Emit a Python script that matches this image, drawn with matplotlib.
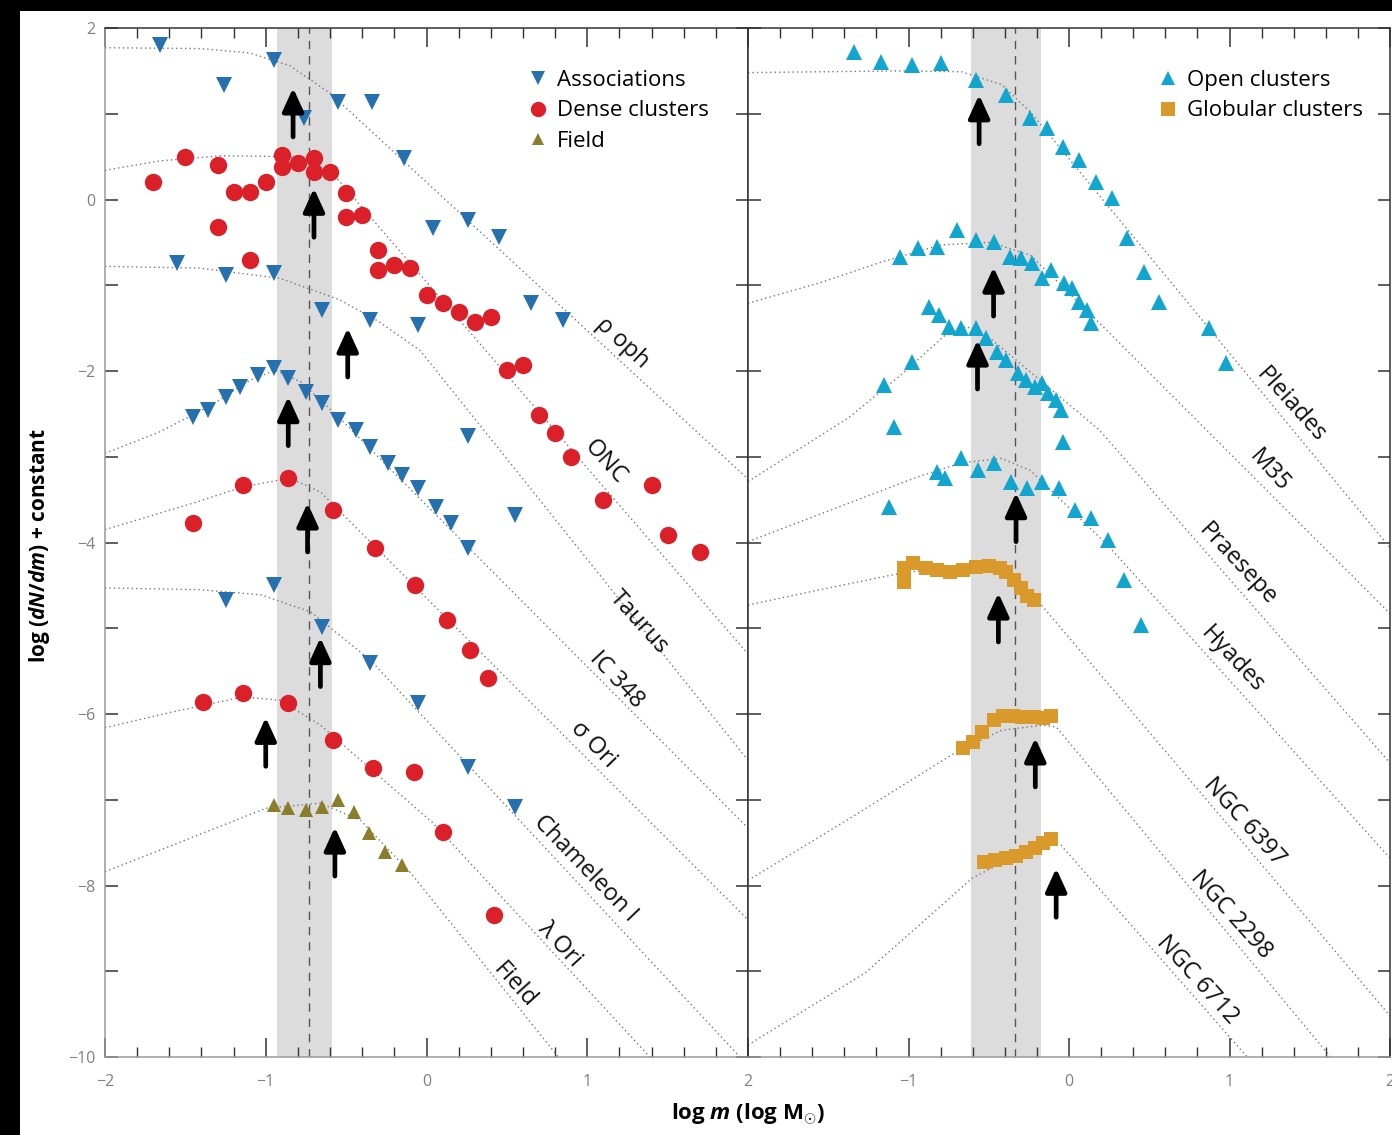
"""Stellar IMFs of young clusters, associations, open and globular clusters."""

import matplotlib

matplotlib.use("Agg")
import matplotlib.pyplot as plt
from matplotlib.lines import Line2D
from matplotlib.patches import Rectangle
from matplotlib.ticker import FuncFormatter, MultipleLocator

plt.rcParams["font.family"] = ["Open Sans", "DejaVu Sans"]
plt.rcParams["mathtext.fontset"] = "custom"
plt.rcParams["mathtext.rm"] = "Open Sans:bold"
plt.rcParams["mathtext.it"] = "Open Sans:italic:bold"
plt.rcParams["mathtext.bf"] = "Open Sans:bold"

BLUE = "#2570ad"
RED = "#dc2029"
OLIVE = "#8a7d2c"
CYAN = "#12a6cf"
ORANGE = "#d99a2b"
FIT_COLOR = "#777777"

# ---------------------------------------------------------------- left panel
# associations (blue down triangles)
RHO_OPH_X = [-1.66, -1.26, -0.95, -0.76, -0.55, -0.34, -0.14, 0.04, 0.26, 0.45, 0.65, 0.85]
RHO_OPH_Y = [1.80, 1.34, 1.63, 0.95, 1.14, 1.14, 0.48, -0.33, -0.24, -0.44, -1.21, -1.41]
TAURUS_X = [-1.55, -1.25, -0.95, -0.65, -0.35, -0.05, 0.26, 0.55]
TAURUS_Y = [-0.74, -0.88, -0.86, -1.29, -1.41, -1.46, -2.76, -3.68]
IC348_X = [-1.45, -1.36, -1.25, -1.16, -1.05, -0.95, -0.86, -0.75, -0.65, -0.55,
           -0.44, -0.35, -0.24, -0.15, -0.05, 0.06, 0.15, 0.26]
IC348_Y = [-2.54, -2.46, -2.30, -2.19, -2.05, -1.97, -2.08, -2.25, -2.37, -2.57,
           -2.69, -2.89, -3.07, -3.21, -3.36, -3.59, -3.77, -4.06]
CHAM_X = [-1.25, -0.95, -0.65, -0.35, -0.05, 0.26, 0.55]
CHAM_Y = [-4.67, -4.50, -4.99, -5.41, -5.87, -6.62, -7.09]

# dense clusters (red circles)
ONC_X = [-1.7, -1.5, -1.3, -1.2, -1.1, -1.0, -0.9, -0.9, -0.8, -0.7, -0.7, -0.6,
         -0.5, -0.5, -0.4, -0.3, -0.3, -0.2, -0.1, 0.0, 0.1, 0.2, 0.3, 0.4, 0.5,
         0.6, 0.7, 0.8, 0.9, 1.1, 1.4, 1.5, 1.7, -1.3, -1.1]
ONC_Y = [0.20, 0.50, 0.40, 0.09, 0.09, 0.20, 0.52, 0.38, 0.43, 0.48, 0.32, 0.32,
         0.08, -0.20, -0.18, -0.59, -0.82, -0.76, -0.80, -1.11, -1.21, -1.31,
         -1.43, -1.37, -1.99, -1.93, -2.51, -2.72, -3.00, -3.50, -3.33, -3.91,
         -4.11, -0.32, -0.71]
SIG_ORI_X = [-1.45, -1.14, -0.86, -0.58, -0.32, -0.07, 0.13, 0.27, 0.38]
SIG_ORI_Y = [-3.77, -3.33, -3.25, -3.62, -4.06, -4.50, -4.90, -5.25, -5.58]
LAM_ORI_X = [-1.39, -1.14, -0.86, -0.58, -0.33, -0.08, 0.10, 0.42]
LAM_ORI_Y = [-5.86, -5.76, -5.87, -6.30, -6.63, -6.68, -7.38, -8.34]

# field (olive triangles)
FIELD_X = [-0.95, -0.86, -0.75, -0.65, -0.55, -0.45, -0.36, -0.26, -0.15]
FIELD_Y = [-7.06, -7.10, -7.12, -7.09, -7.00, -7.14, -7.39, -7.61, -7.76]

RHO_OPH_FIT_X = [-2.0, -1.41, -1.10, -0.85, -0.60, 2.0]
RHO_OPH_FIT_Y = [1.77, 1.76, 1.71, 1.56, 1.24, -3.26]
ONC_FIT_X = [-2.0, -1.66, -1.28, -0.85, -0.60, 2.0]
ONC_FIT_Y = [0.34, 0.45, 0.51, 0.50, 0.34, -5.30]
TAURUS_FIT_X = [-2.0, -1.41, -0.91, -0.54, -0.30, -0.04, 2.0]
TAURUS_FIT_Y = [-0.78, -0.80, -0.92, -1.17, -1.42, -1.76, -6.54]
IC348_FIT_X = [-2.0, -1.66, -1.34, -1.10, -0.94, -0.78, -0.54, 2.0]
IC348_FIT_Y = [-2.96, -2.71, -2.40, -2.11, -1.99, -2.13, -2.55, -7.33]
SIG_ORI_FIT_X = [-2.0, -1.45, -1.14, -0.85, -0.66, 2.0]
SIG_ORI_FIT_Y = [-3.85, -3.54, -3.35, -3.25, -3.41, -8.40]
CHAM_FIT_X = [-2.0, -1.41, -1.03, -0.72, -0.35, 1.95]
CHAM_FIT_Y = [-4.53, -4.55, -4.61, -4.81, -5.37, -10.0]
LAM_ORI_FIT_X = [-2.0, -1.59, -1.14, -0.91, -0.66, 0.04, 1.39]
LAM_ORI_FIT_Y = [-6.16, -5.98, -5.80, -5.84, -6.13, -7.27, -10.0]
FIELD_FIT_X = [-2.0, -1.50, -1.00, -0.66, -0.41, -0.10, 0.82]
FIELD_FIT_Y = [-7.84, -7.47, -7.10, -7.04, -7.24, -7.85, -10.0]

LEFT_LABELS = ["\u03c1 oph", "ONC", "Taurus", "IC 348", "\u03c3 Ori", "Chameleon I", "\u03bb Ori", "Field"]
LEFT_LABEL_X = [1.22, 1.11, 1.32, 1.18, 1.04, 0.99, 0.83, 0.55]
LEFT_LABEL_Y = [-1.67, -3.06, -4.93, -5.60, -6.36, -7.80, -8.69, -9.16]
LEFT_LABEL_ROT = [-43, -48, -48, -47, -46, -46, -47, -48]

LEFT_ARROW_X = [-0.83, -0.70, -0.49, -0.86, -0.74, -0.66, -1.00, -0.57]
LEFT_ARROW_Y = [1.30, 0.13, -1.50, -2.30, -3.54, -5.11, -6.04, -7.32]
LEFT_BAND = (-0.93, -0.585)
LEFT_MEAN = -0.73

# --------------------------------------------------------------- right panel
PLEIADES_X = [-1.34, -1.17, -0.98, -0.80, -0.58, -0.39, -0.24, -0.14, -0.04, 0.06,
              0.17, 0.27, 0.36, 0.47, 0.56, 0.87, 0.98]
PLEIADES_Y = [1.72, 1.60, 1.57, 1.59, 1.39, 1.22, 0.95, 0.83, 0.61, 0.46, 0.20,
              0.02, -0.45, -0.85, -1.20, -1.50, -1.91]
M35_X = [-1.05, -0.94, -0.82, -0.70, -0.58, -0.47, -0.37, -0.30, -0.23, -0.17,
         -0.11, -0.03, 0.02, 0.06, 0.11, 0.14]
M35_Y = [-0.67, -0.57, -0.55, -0.36, -0.47, -0.50, -0.67, -0.68, -0.74, -0.92,
         -0.82, -0.97, -1.03, -1.20, -1.29, -1.44]
PRAESEPE_X = [-1.15, -1.09, -0.98, -0.87, -0.81, -0.75, -0.67, -0.58, -0.52, -0.45,
              -0.39, -0.32, -0.27, -0.21, -0.17, -0.13, -0.08, -0.05, -0.04]
PRAESEPE_Y = [-2.16, -2.65, -1.90, -1.25, -1.35, -1.49, -1.50, -1.50, -1.62, -1.78,
              -1.87, -2.02, -2.11, -2.19, -2.14, -2.26, -2.34, -2.46, -2.83]
HYADES_X = [-1.12, -0.82, -0.77, -0.67, -0.57, -0.47, -0.36, -0.26, -0.17, -0.06,
            0.04, 0.14, 0.24, 0.34, 0.45]
HYADES_Y = [-3.59, -3.18, -3.25, -3.02, -3.16, -3.07, -3.29, -3.36, -3.29, -3.36,
            -3.62, -3.71, -3.97, -4.44, -4.96]

NGC6397_X = [-1.03, -1.03, -0.97, -0.89, -0.82, -0.74, -0.66, -0.58, -0.50, -0.43,
             -0.39, -0.34, -0.30, -0.26, -0.22]
NGC6397_Y = [-4.30, -4.46, -4.24, -4.30, -4.32, -4.34, -4.32, -4.29, -4.27, -4.30,
             -4.34, -4.44, -4.53, -4.62, -4.67]
NGC2298_X = [-0.66, -0.60, -0.54, -0.47, -0.41, -0.35, -0.29, -0.22, -0.16, -0.11]
NGC2298_Y = [-6.40, -6.33, -6.21, -6.07, -6.02, -6.02, -6.04, -6.04, -6.05, -6.02]
NGC6712_X = [-0.53, -0.46, -0.39, -0.33, -0.27, -0.21, -0.16, -0.11]
NGC6712_Y = [-7.73, -7.70, -7.68, -7.66, -7.61, -7.56, -7.50, -7.46]

PLEIADES_FIT_X = [-2.0, -1.05, -0.67, -0.42, -0.24, 2.0]
PLEIADES_FIT_Y = [1.48, 1.50, 1.49, 1.34, 1.02, -4.06]
M35_FIT_X = [-2.0, -1.55, -1.17, -0.80, -0.49, -0.24, 0.19, 2.0]
M35_FIT_Y = [-1.21, -0.97, -0.73, -0.53, -0.50, -0.65, -1.44, -4.83]
PRAESEPE_FIT_X = [-2.0, -1.37, -1.05, -0.77, -0.64, -0.49, 0.19, 2.0]
PRAESEPE_FIT_Y = [-3.29, -2.54, -2.05, -1.58, -1.48, -1.62, -2.69, -6.57]
HYADES_FIT_X = [-2.0, -1.37, -0.95, -0.67, -0.42, -0.24, 0.24, 2.0]
HYADES_FIT_Y = [-3.99, -3.54, -3.24, -3.07, -3.02, -3.16, -4.03, -7.68]
NGC6397_FIT_X = [-2.0, -1.55, -1.08, -0.67, -0.42, -0.19, 2.0]
NGC6397_FIT_Y = [-4.73, -4.55, -4.37, -4.26, -4.32, -4.69, -9.52]
NGC2298_FIT_X = [-2.0, -1.36, -0.70, -0.42, -0.17, -0.08, 1.63]
NGC2298_FIT_Y = [-7.94, -7.21, -6.44, -6.19, -6.13, -6.15, -10.0]
NGC6712_FIT_X = [-2.0, -1.27, -0.60, -0.36, -0.11, -0.05, 1.11]
NGC6712_FIT_Y = [-9.86, -9.02, -7.91, -7.68, -7.49, -7.53, -10.0]

RIGHT_LABELS = ["Pleiades", "M35", "Praesepe", "Hyades", "NGC 6397", "NGC 2298", "NGC 6712"]
RIGHT_LABEL_X = [1.38, 1.25, 1.05, 1.02, 1.09, 1.01, 0.80]
RIGHT_LABEL_Y = [-2.40, -3.16, -4.26, -5.37, -7.26, -8.34, -9.10]
RIGHT_LABEL_ROT = [-48, -48, -47, -47, -48, -48, -48]

RIGHT_ARROW_X = [-0.56, -0.47, -0.57, -0.33, -0.44, -0.21, -0.08]
RIGHT_ARROW_Y = [1.22, -0.79, -1.64, -3.42, -4.59, -6.28, -7.80]
RIGHT_BAND = (-0.61, -0.175)
RIGHT_MEAN = -0.335

ARROW_LEN = 0.57


def tick_fmt(v, pos):
    if abs(v) < 1e-9:
        return "0"
    return f"{v:.0f}".replace("-", "\u2212")


def style_axis(ax, left_labels, hide_first_x):
    ax.set_xlim(-2, 2)
    ax.set_ylim(-10, 2)
    ax.xaxis.set_major_locator(MultipleLocator(1))
    ax.xaxis.set_minor_locator(MultipleLocator(0.2))
    ax.yaxis.set_major_locator(MultipleLocator(2))
    ax.yaxis.set_minor_locator(MultipleLocator(1))
    ax.tick_params(which="both", direction="in", top=True, right=True,
                   color="#333333", labelcolor="#808080", labelsize=11.5)
    ax.tick_params(axis="x", which="major", length=14, width=1.1, pad=12)
    ax.tick_params(axis="x", which="minor", length=7, width=1.0)
    ax.tick_params(axis="y", which="both", length=9, width=1.1, pad=7)
    ax.tick_params(labelleft=left_labels)
    if hide_first_x:
        ax.xaxis.set_major_formatter(FuncFormatter(lambda v, p: "" if v < -1.5 else tick_fmt(v, p)))
    else:
        ax.xaxis.set_major_formatter(FuncFormatter(tick_fmt))
    ax.yaxis.set_major_formatter(FuncFormatter(tick_fmt))
    for side in ("top", "right"):
        ax.spines[side].set_color("#333333")
    ax.spines["left"].set_color("#333333" if not left_labels else "#9a9a9a")
    ax.spines["bottom"].set_color("#9a9a9a")
    for s in ax.spines.values():
        s.set_linewidth(1.1)


def draw_fit(ax, x, y):
    ax.plot(x, y, linestyle=(0, (1, 2.2)), color=FIT_COLOR, lw=1.0, zorder=2)


def draw_points(ax, x, y, marker, color, size):
    ax.plot(x, y, linestyle="none", marker=marker, ms=size, color=color, mew=0, zorder=3)


def draw_arrows(ax, xs, ys):
    for x, y in zip(xs, ys):
        ax.annotate("", xy=(x, y), xytext=(x, y - ARROW_LEN),
                    arrowprops=dict(arrowstyle="-|>,head_length=0.7,head_width=0.32",
                                    lw=3.4, color="black", mutation_scale=20,
                                    shrinkA=0, shrinkB=0),
                    zorder=4)


def draw_labels(ax, labels, xs, ys, rots):
    for s, x, y, r in zip(labels, xs, ys, rots):
        ax.text(x, y, s, rotation=r, rotation_mode="anchor", ha="center", va="center",
                fontsize=17, color="#111111", zorder=5)


def main():
    W, H = 1392, 1135
    fig = plt.figure(figsize=(W / 100, H / 100), dpi=100)
    fig.patch.set_facecolor("black")
    fig.add_artist(Rectangle((20 / W, 0), 1, 1 - 11 / H, transform=fig.transFigure,
                             facecolor="white", edgecolor="none", zorder=0))

    ax_l = fig.add_axes([105 / W, 78 / H, 643 / W, 1029 / H])
    ax_r = fig.add_axes([748 / W, 78 / H, 642 / W, 1029 / H])
    style_axis(ax_l, True, False)
    style_axis(ax_r, False, True)

    # left panel
    ax_l.axvspan(*LEFT_BAND, color="#dcdcdc", lw=0, zorder=0)
    ax_l.axvline(LEFT_MEAN, color="#555555", ls=(0, (6, 5)), lw=1.0, zorder=1)
    for fx, fy in [(RHO_OPH_FIT_X, RHO_OPH_FIT_Y), (ONC_FIT_X, ONC_FIT_Y),
                   (TAURUS_FIT_X, TAURUS_FIT_Y), (IC348_FIT_X, IC348_FIT_Y),
                   (SIG_ORI_FIT_X, SIG_ORI_FIT_Y), (CHAM_FIT_X, CHAM_FIT_Y),
                   (LAM_ORI_FIT_X, LAM_ORI_FIT_Y), (FIELD_FIT_X, FIELD_FIT_Y)]:
        draw_fit(ax_l, fx, fy)
    for x, y in [(RHO_OPH_X, RHO_OPH_Y), (TAURUS_X, TAURUS_Y), (IC348_X, IC348_Y), (CHAM_X, CHAM_Y)]:
        draw_points(ax_l, x, y, "v", BLUE, 12)
    for x, y in [(ONC_X, ONC_Y), (SIG_ORI_X, SIG_ORI_Y), (LAM_ORI_X, LAM_ORI_Y)]:
        draw_points(ax_l, x, y, "o", RED, 12.5)
    draw_points(ax_l, FIELD_X, FIELD_Y, "^", OLIVE, 10.5)
    draw_arrows(ax_l, LEFT_ARROW_X, LEFT_ARROW_Y)
    draw_labels(ax_l, LEFT_LABELS, LEFT_LABEL_X, LEFT_LABEL_Y, LEFT_LABEL_ROT)

    handles = [Line2D([], [], ls="none", marker="v", ms=10, color=BLUE, mew=0),
               Line2D([], [], ls="none", marker="o", ms=11, color=RED, mew=0),
               Line2D([], [], ls="none", marker="^", ms=9, color=OLIVE, mew=0)]
    ax_l.legend(handles, ["Associations", "Dense clusters", "Field"], loc="upper left",
                bbox_to_anchor=(0.643, 0.970), frameon=False, fontsize=16,
                handlelength=0.8, handletextpad=0.45, labelspacing=0.42, borderpad=0)

    # right panel
    ax_r.axvspan(*RIGHT_BAND, color="#dcdcdc", lw=0, zorder=0)
    ax_r.axvline(RIGHT_MEAN, color="#555555", ls=(0, (6, 5)), lw=1.0, zorder=1)
    for fx, fy in [(PLEIADES_FIT_X, PLEIADES_FIT_Y), (M35_FIT_X, M35_FIT_Y),
                   (PRAESEPE_FIT_X, PRAESEPE_FIT_Y), (HYADES_FIT_X, HYADES_FIT_Y),
                   (NGC6397_FIT_X, NGC6397_FIT_Y), (NGC2298_FIT_X, NGC2298_FIT_Y),
                   (NGC6712_FIT_X, NGC6712_FIT_Y)]:
        draw_fit(ax_r, fx, fy)
    for x, y in [(PLEIADES_X, PLEIADES_Y), (M35_X, M35_Y), (PRAESEPE_X, PRAESEPE_Y), (HYADES_X, HYADES_Y)]:
        draw_points(ax_r, x, y, "^", CYAN, 12)
    for x, y in [(NGC6397_X, NGC6397_Y), (NGC2298_X, NGC2298_Y), (NGC6712_X, NGC6712_Y)]:
        draw_points(ax_r, x, y, "s", ORANGE, 10)
    draw_arrows(ax_r, RIGHT_ARROW_X, RIGHT_ARROW_Y)
    draw_labels(ax_r, RIGHT_LABELS, RIGHT_LABEL_X, RIGHT_LABEL_Y, RIGHT_LABEL_ROT)

    handles = [Line2D([], [], ls="none", marker="^", ms=10, color=CYAN, mew=0),
               Line2D([], [], ls="none", marker="s", ms=10, color=ORANGE, mew=0)]
    ax_r.legend(handles, ["Open clusters", "Globular clusters"], loc="upper left",
                bbox_to_anchor=(0.623, 0.970), frameon=False, fontsize=16,
                handlelength=0.8, handletextpad=0.45, labelspacing=0.42, borderpad=0)

    fig.text(40 / W, 1 - 545 / H, r"log ($dN/dm$) + constant", rotation=90,
             ha="center", va="center", fontsize=15, fontweight="bold")
    fig.text(748 / W, 1 - 1114 / H, r"log $m$ (log M$_{\odot}$)",
             ha="center", va="center", fontsize=16, fontweight="bold")

    fig.savefig("out.png", dpi=100, facecolor=fig.get_facecolor())
    plt.close(fig)


if __name__ == "__main__":
    main()
